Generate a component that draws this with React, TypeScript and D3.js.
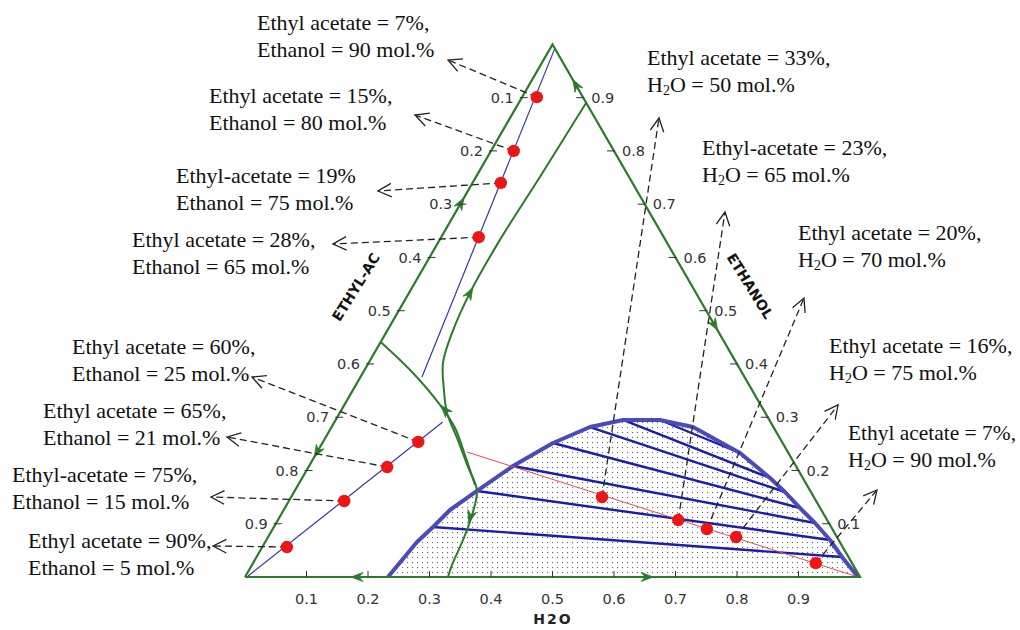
import React from 'react';
import * as d3 from 'd3';

// Ternary points are [H2O fraction, ethanol fraction]; ethyl acetate = 1 - both.
const axisTicks = [0.1, 0.2, 0.3, 0.4, 0.5, 0.6, 0.7, 0.8, 0.9];
const axisTickLabels = ['0.1', '0.2', '0.3', '0.4', '0.5', '0.6', '0.7', '0.8', '0.9'];

const upperBlueLine: [number, number][] = [[0.0075, 0.993], [0.1, 0.3755]];
const lowerBlueLine: [number, number][] = [[0.176, 0.291], [0.004, 0.002]];
const redLine: [number, number][] = [[0.2436, 0.2347], [0.997, 0]];

const boundaryMain: [number, number][] = [
  [0.1095, 0.89], [0.104, 0.751], [0.098, 0.633], [0.099, 0.533], [0.1076, 0.458],
  [0.121, 0.4018], [0.148, 0.351], [0.1745, 0.308], [0.2177, 0.257], [0.2593, 0.2065],
  [0.2955, 0.163], [0.311, 0.1164], [0.3198, 0.0695], [0.3253, 0.0225], [0.33, 0],
];
const boundarySide: [number, number][] = [
  [0, 0.4412], [0.0817, 0.383], [0.1556, 0.323], [0.2016, 0.2798], [0.2432, 0.229], [0.2876, 0.1727],
];

const binodal: [number, number][] = [
  [0.2325, 0], [0.2468, 0.0657], [0.2588, 0.0939], [0.2704, 0.1258], [0.2965, 0.1615],
  [0.3316, 0.2084], [0.375, 0.2516], [0.4202, 0.2816], [0.4672, 0.2948], [0.5274, 0.2948],
  [0.5877, 0.2816], [0.6885, 0.2328], [0.7608, 0.1859], [0.7982, 0.1596], [0.8376, 0.1296],
  [0.8761, 0.1014], [0.9165, 0.0695], [0.9519, 0.0376], [0.9967, 0],
];

const tieLines: [number, number][][] = [
  [[0.2588, 0.0939], [0.9519, 0.0376]],
  [[0.2965, 0.1615], [0.9165, 0.0695]],
  [[0.3316, 0.2084], [0.8761, 0.1014]],
  [[0.375, 0.2516], [0.8376, 0.1296]],
  [[0.4202, 0.2816], [0.7982, 0.1596]],
  [[0.4672, 0.2948], [0.7608, 0.1859]],
  [[0.5274, 0.2948], [0.6885, 0.2328]],
];

const leftPoints: [number, number][] = [
  [0.024, 0.901], [0.037, 0.8], [0.046, 0.74], [0.061, 0.638],
  [0.155, 0.2535], [0.128, 0.2065], [0.09, 0.1427], [0.04, 0.0563],
];
const rightPoints: [number, number][] = [
  [0.5055, 0.15], [0.651, 0.107], [0.706, 0.09], [0.761, 0.075], [0.915, 0.026],
];

const leftLabels = [
  ['Ethyl acetate = 7%,', 'Ethanol = 90 mol.%'],
  ['Ethyl acetate = 15%,', 'Ethanol = 80 mol.%'],
  ['Ethyl-acetate = 19%', 'Ethanol = 75 mol.%'],
  ['Ethyl acetate = 28%,', 'Ethanol = 65 mol.%'],
  ['Ethyl acetate = 60%,', 'Ethanol = 25 mol.%'],
  ['Ethyl acetate = 65%,', 'Ethanol = 21 mol.%'],
  ['Ethyl-acetate = 75%,', 'Ethanol = 15 mol.%'],
  ['Ethyl acetate = 90%,', 'Ethanol = 5 mol.%'],
];
const rightLabels = [
  ['Ethyl acetate = 33%,', ' = 50 mol.%'],
  ['Ethyl-acetate = 23%,', ' = 65 mol.%'],
  ['Ethyl acetate = 20%,', ' = 70 mol.%'],
  ['Ethyl acetate = 16%,', ' = 75 mol.%'],
  ['Ethyl acetate = 7%,', ' = 90 mol.%'],
];

// annotation layout (pixel): arrow tip and text anchor
const leftLayout = [
  { tip: [448, 60], text: [257, 30] },
  { tip: [415, 115], text: [209, 103] },
  { tip: [378, 191], text: [176, 183] },
  { tip: [333, 244], text: [132, 247] },
  { tip: [252, 377], text: [72, 354] },
  { tip: [227, 437], text: [43, 418] },
  { tip: [211, 497], text: [12, 482] },
  { tip: [213, 546], text: [28, 548] },
];
const rightLayout = [
  { tip: [659, 118], text: [647, 65] },
  { tip: [725, 212], text: [702, 155] },
  { tip: [804, 298], text: [798, 240] },
  { tip: [838, 405], text: [829, 353] },
  { tip: [877, 490], text: [848, 440] },
];

// direction arrows: at -> toward
const flowArrows: { at: [number, number]; to: [number, number] }[] = [
  { at: [0, 0.702], to: [0, 1] },
  { at: [0, 0.235], to: [0, 0] },
  { at: [0.076, 0.924], to: [0, 1] },
  { at: [0.527, 0.473], to: [1, 0] },
  { at: [0.182, 0], to: [0, 0] },
  { at: [0.654, 0], to: [1, 0] },
  { at: [0.099, 0.533], to: [0.098, 0.633] },
  { at: [0.31, 0.113], to: [0.32, 0.07] },
  { at: [0.1684, 0.3136], to: [0.0817, 0.383] },
];

const GREEN = '#2b7b2b';
const SERIF = '"Liberation Serif", "Times New Roman", serif';
const SANS = 'Verdana, "DejaVu Sans", sans-serif';

export default function App() {
  const xS = d3.scaleLinear().domain([0, 1]).range([245, 860]);
  const yS = d3.scaleLinear().domain([0, 1]).range([577, 44.4]);
  const P = (t: [number, number]): [number, number] => [xS(t[0] + t[1] / 2), yS(t[1])];
  const line = d3.line<[number, number]>().x(d => P(d)[0]).y(d => P(d)[1]);
  const smooth = d3
    .line<[number, number]>()
    .x(d => P(d)[0])
    .y(d => P(d)[1])
    .curve(d3.curveCatmullRom.alpha(0.5));

  const triangle: [number, number][] = [[0, 0], [1, 0], [0, 1], [0, 0]];

  const openHead = (from: number[], tip: number[]) => {
    const dx = tip[0] - from[0], dy = tip[1] - from[1];
    const L = Math.hypot(dx, dy);
    const ux = dx / L, uy = dy / L;
    const a = (27 * Math.PI) / 180, len = 15;
    const arm = (s: number) => {
      const c = Math.cos(s * a), sn = Math.sin(s * a);
      const rx = ux * c - uy * sn, ry = ux * sn + uy * c;
      return [tip[0] - rx * len, tip[1] - ry * len];
    };
    const p1 = arm(1), p2 = arm(-1);
    return `M${p1[0]},${p1[1]}L${tip[0]},${tip[1]}L${p2[0]},${p2[1]}`;
  };

  const greenHead = (at: [number, number], to: [number, number]) => {
    const p = P(at), q = P(to);
    const dx = q[0] - p[0], dy = q[1] - p[1];
    const L = Math.hypot(dx, dy);
    const ux = dx / L, uy = dy / L;
    const nx = -uy, ny = ux;
    const tip = [p[0] + ux * 6, p[1] + uy * 6];
    const b1 = [p[0] - ux * 6 + nx * 4.5, p[1] - uy * 6 + ny * 4.5];
    const b2 = [p[0] - ux * 6 - nx * 4.5, p[1] - uy * 6 - ny * 4.5];
    const notch = [p[0] - ux * 2, p[1] - uy * 2];
    return `M${tip[0]},${tip[1]}L${b1[0]},${b1[1]}L${notch[0]},${notch[1]}L${b2[0]},${b2[1]}Z`;
  };

  return (
    <svg width={1020} height={630} style={{ position: 'absolute', left: 0, top: 0, background: '#fff' }}>
      <defs>
        <pattern id="dots" width={5} height={5} patternUnits="userSpaceOnUse">
          <rect x={2} y={2} width={1.1} height={1.1} fill="#666" />
        </pattern>
      </defs>
      <rect width={1020} height={630} fill="#fff" />

      {/* two-phase region */}
      <path d={line(binodal)! + 'Z'} fill="url(#dots)" stroke="none" />
      {tieLines.map((t, i) => (
        <path key={'tie' + i} d={line(t)!} stroke="#1c1cb0" strokeWidth={2.4} fill="none" />
      ))}
      <path d={line(binodal)!} stroke="#4a4ab8" strokeWidth={4} fill="none" strokeLinejoin="round" />

      <path d={line(redLine)!} stroke="#e05050" strokeWidth={1} fill="none" />
      <path d={line(upperBlueLine)!} stroke="#3535a8" strokeWidth={1.2} fill="none" />
      <path d={line(lowerBlueLine)!} stroke="#3535a8" strokeWidth={1.2} fill="none" />

      <path d={smooth(boundaryMain)!} stroke={GREEN} strokeWidth={2} fill="none" />
      <path d={smooth(boundarySide)!} stroke={GREEN} strokeWidth={2} fill="none" />

      <path d={line(triangle)!} stroke={GREEN} strokeWidth={2.2} fill="none" strokeLinejoin="miter" />

      {flowArrows.map((a, i) => (
        <path key={'fa' + i} d={greenHead(a.at, a.to)} fill={GREEN} stroke={GREEN} strokeWidth={0.8} />
      ))}

      {/* ticks */}
      {axisTicks.map((v, i) => {
        const b = P([v, 0]);
        const l = P([0, 1 - v]);
        const r = P([1 - v, v]);
        return (
          <g key={'tk' + i}>
            <line x1={b[0]} y1={b[1]} x2={b[0]} y2={b[1] - 6} stroke="#333" strokeWidth={1} />
            <line x1={l[0] - 2} y1={l[1]} x2={l[0] + 6} y2={l[1]} stroke="#333" strokeWidth={1} />
            <line x1={r[0] - 7} y1={r[1]} x2={r[0] + 1} y2={r[1]} stroke="#333" strokeWidth={1} />
            <text x={b[0]} y={604} textAnchor="middle" fontFamily={SANS} fontSize={14.5} fill="#333">
              {axisTickLabels[i]}
            </text>
            <text x={l[0] - 8} y={l[1]} dy="0.35em" textAnchor="end" fontFamily={SANS} fontSize={14.5} fill="#333">
              {axisTickLabels[i]}
            </text>
            <text x={r[0] + 8} y={r[1]} dy="0.35em" textAnchor="start" fontFamily={SANS} fontSize={14.5} fill="#333">
              {axisTickLabels[i]}
            </text>
          </g>
        );
      })}

      <text x={553} y={624} textAnchor="middle" fontFamily={SANS} fontSize={14} fontWeight="bold" letterSpacing={2} fill="#222">
        H2O
      </text>
      <text transform="translate(356,287) rotate(-58)" textAnchor="middle" dy="0.35em" fontFamily={SANS} fontSize={14} fontWeight="bold" fill="#111">
        ETHYL-AC
      </text>
      <text transform="translate(750,286) rotate(58)" textAnchor="middle" dy="0.35em" fontFamily={SANS} fontSize={14} fontWeight="bold" fill="#111">
        ETHANOL
      </text>

      {/* annotations */}
      {leftPoints.map((pt, i) => {
        const p = P(pt);
        const tip = leftLayout[i].tip;
        return (
          <g key={'la' + i}>
            <line x1={p[0]} y1={p[1]} x2={tip[0]} y2={tip[1]} stroke="#222" strokeWidth={1.3} strokeDasharray="7,4" />
            <path d={openHead(p, tip)} stroke="#222" strokeWidth={1.3} fill="none" />
          </g>
        );
      })}
      {rightPoints.map((pt, i) => {
        const p = P(pt);
        const tip = rightLayout[i].tip;
        return (
          <g key={'ra' + i}>
            <line x1={p[0]} y1={p[1]} x2={tip[0]} y2={tip[1]} stroke="#222" strokeWidth={1.3} strokeDasharray="7,4" />
            <path d={openHead(p, tip)} stroke="#222" strokeWidth={1.3} fill="none" />
          </g>
        );
      })}
      {leftPoints.concat(rightPoints).map((pt, i) => {
        const p = P(pt);
        return <circle key={'dot' + i} cx={p[0]} cy={p[1]} r={6.2} fill="#ee1515" />;
      })}

      {leftLabels.map((lab, i) => {
        const t = leftLayout[i].text;
        return (
          <g key={'lt' + i} fontFamily={SERIF} fontSize={22} fill="#111">
            <text x={t[0]} y={t[1]}>{lab[0]}</text>
            <text x={t[0]} y={t[1] + 26.5}>{lab[1]}</text>
          </g>
        );
      })}
      {rightLabels.map((lab, i) => {
        const t = rightLayout[i].text;
        return (
          <g key={'rt' + i} fontFamily={SERIF} fontSize={22} fill="#111">
            <text x={t[0]} y={t[1]} textLength={i === 4 ? 168 : undefined} lengthAdjust="spacingAndGlyphs">{lab[0]}</text>
            <text x={t[0]} y={t[1] + 26.5}>
              <tspan>H</tspan>
              <tspan fontSize={14} dy={3}>2</tspan>
              <tspan dy={-3}>O</tspan>
              <tspan>{lab[1]}</tspan>
            </text>
          </g>
        );
      })}
    </svg>
  );
}
